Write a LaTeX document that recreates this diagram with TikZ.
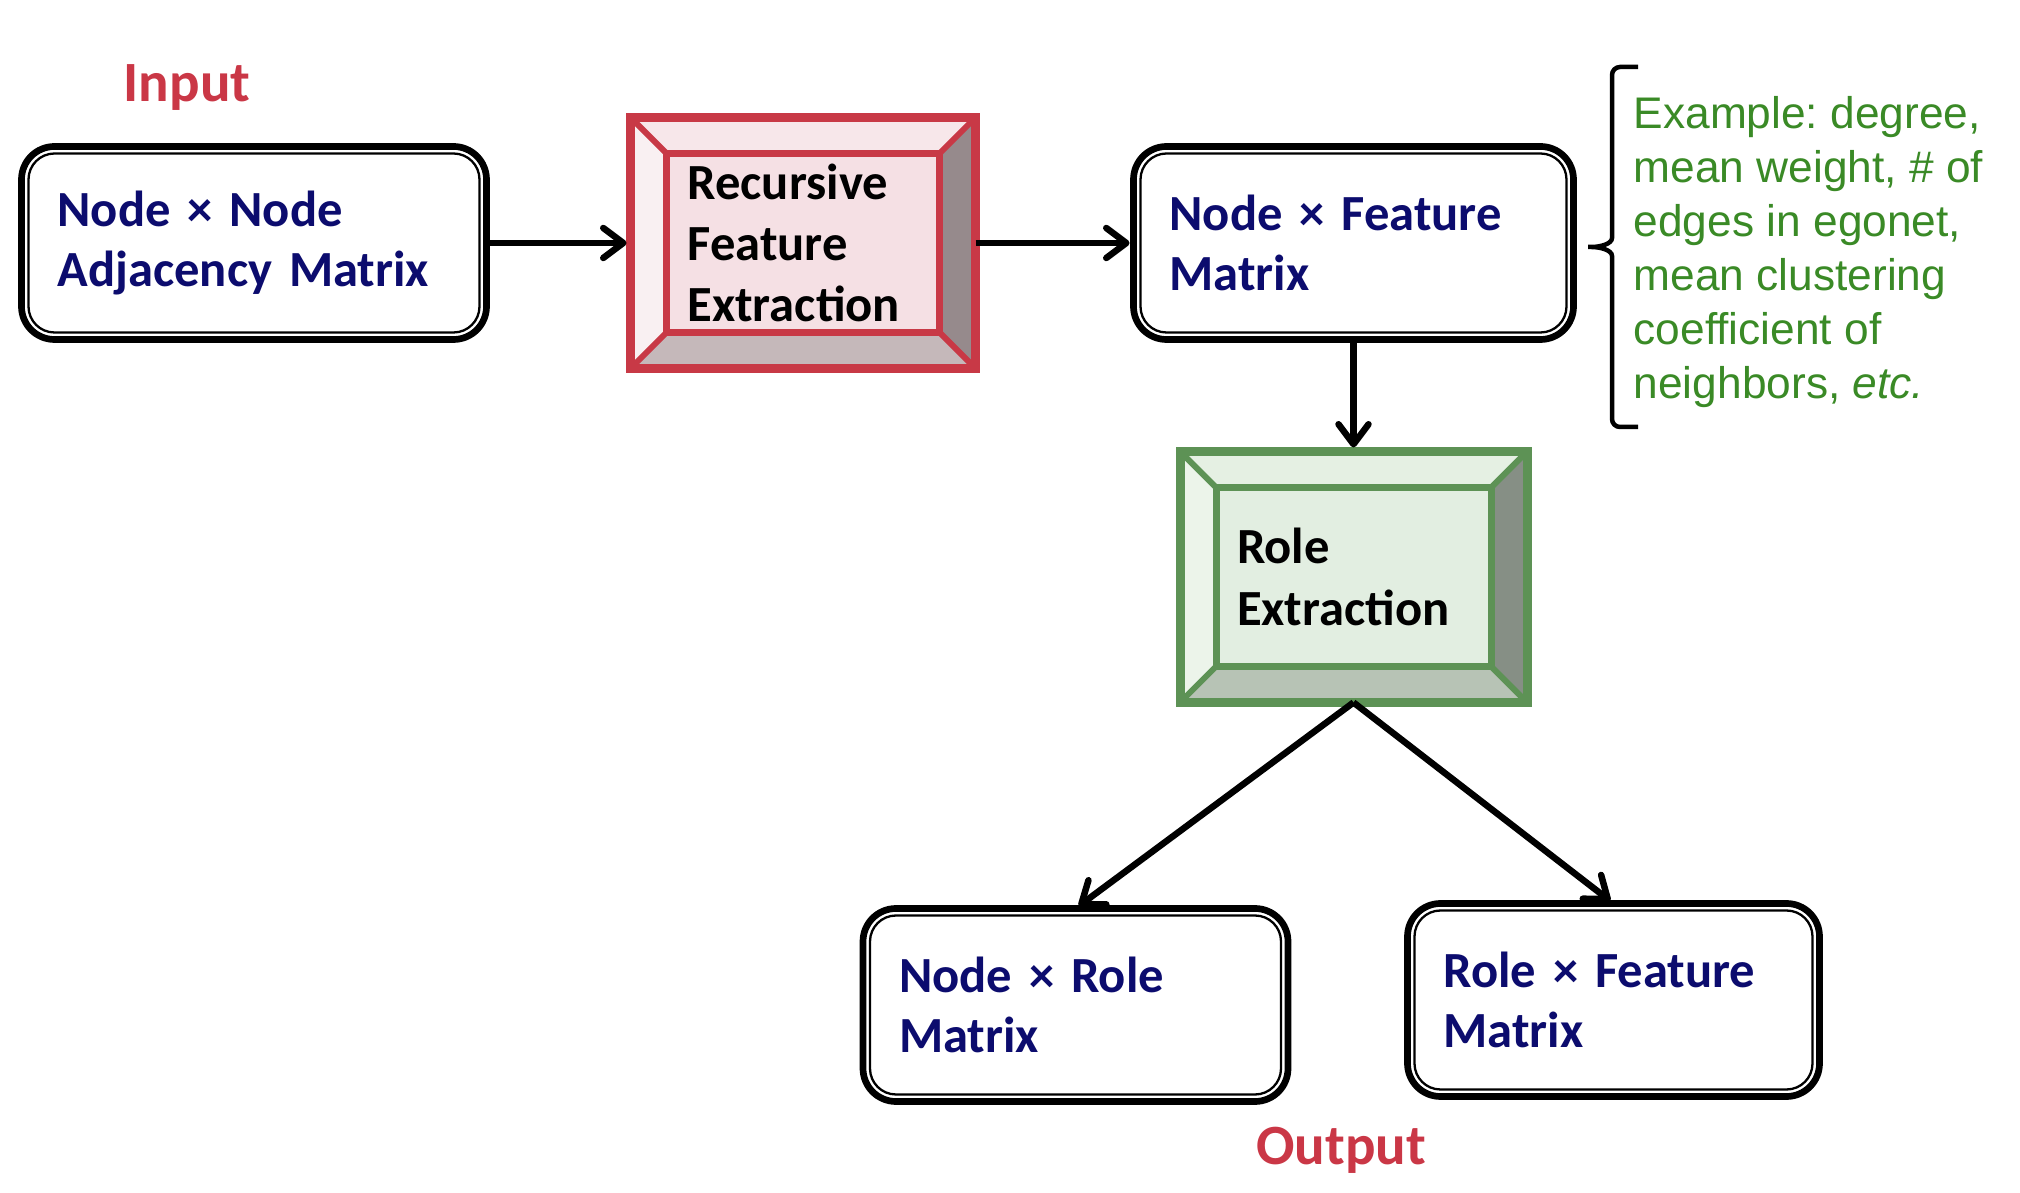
\documentclass[tikz,border=0pt]{standalone}
\usepackage{fontspec}
\setmainfont{Carlito}
\newfontfamily\arialfont{Liberation Sans}
\usetikzlibrary{arrows.meta, positioning, calc}
\frenchspacing

\definecolor{navytext}{RGB}{12,12,110}
\definecolor{redtext}{RGB}{202,55,70}
\definecolor{greentext}{RGB}{58,138,38}
\definecolor{redline}{RGB}{200,57,70}
\definecolor{redfill}{RGB}{245,224,228}
\definecolor{redtop}{RGB}{247,231,234}
\definecolor{redleft}{RGB}{249,240,242}
\definecolor{redright}{RGB}{150,138,140}
\definecolor{redbottom}{RGB}{197,184,186}
\definecolor{greenline}{RGB}{93,146,85}
\definecolor{greenfill}{RGB}{226,238,225}
\definecolor{greentop}{RGB}{229,240,227}
\definecolor{greenleft}{RGB}{236,244,234}
\definecolor{greenright}{RGB}{134,143,133}
\definecolor{greenbottom}{RGB}{183,195,181}

\tikzstyle{matbox} = [rectangle, rounded corners=0.33cm, minimum height=1.93cm, draw=black,
                      line width=0.067cm, fill=white, inner xsep=0.36cm, outer sep=0pt,
                      align=left, text=navytext, font=\fontsize{14.4}{17.2}\selectfont\bfseries]
\tikzstyle{bevelbox} = [rectangle, minimum height=2.51cm, inner xsep=0.57cm, outer sep=0pt,
                        align=left, text=black, font=\fontsize{14.4}{17.4}\selectfont\bfseries]
\tikzstyle{iolabel} = [inner sep=0pt, text=redtext, font=\fontsize{16.2}{19}\selectfont\bfseries]
\tikzstyle{arrow} = [line width=0.065cm, shorten >=0.04cm, -{Straight Barb[length=0.2cm, width=0.3cm, round]}]
\tikzstyle{brace} = [line width=0.045cm, rounded corners=0.08cm]

\begin{document}
\begin{tikzpicture}
    \useasboundingbox (0,0) rectangle (20.2,-11.93);

    % Top row
    \node[matbox, text width=3.93cm] (adj) at (2.54,-2.43) {Node × Node\\Adjacency Matrix};
    \node[bevelbox, fill=redfill, text width=2.31cm, right=1.44cm of adj] (rfe) {Recursive\\Feature\\Extraction};
    \node[matbox, text width=3.68cm, right=1.58cm of rfe] (nfm) {Node × Feature\\Matrix};

    % Role extraction and outputs
    \node[bevelbox, fill=greenfill, text width=2.33cm, below=1.12cm of nfm] (role) {Role\\Extraction};
    \node[matbox, text width=3.53cm, below=2.06cm of role, xshift=-2.78cm] (nrm) {Node × Role\\Matrix};
    \node[matbox, text width=3.40cm, below=2.01cm of role, xshift=2.60cm] (rfm) {Role × Feature\\Matrix};

    % Inner outlines of the matrix boxes
    \foreach \n in {adj,nfm,nrm,rfm}
        \draw[line width=0.023cm, rounded corners=0.26cm] ($(\n.north west)+(0.07,-0.07)$) rectangle ($(\n.south east)+(-0.07,0.07)$);

    % Bevelled faces
    \foreach \n/\lin/\tc/\lc/\rc/\dc in {rfe/redline/redtop/redleft/redright/redbottom,
                                         role/greenline/greentop/greenleft/greenright/greenbottom} {
        \coordinate (\n-nw) at ($(\n.north west)+(0.36,-0.36)$);
        \coordinate (\n-ne) at ($(\n.north east)+(-0.36,-0.36)$);
        \coordinate (\n-se) at ($(\n.south east)+(-0.36,0.36)$);
        \coordinate (\n-sw) at ($(\n.south west)+(0.36,0.36)$);
        \fill[\tc] (\n.north west) -- (\n.north east) -- (\n-ne) -- (\n-nw) -- cycle;
        \fill[\lc] (\n.north west) -- (\n-nw) -- (\n-sw) -- (\n.south west) -- cycle;
        \fill[\rc] (\n.north east) -- (\n.south east) -- (\n-se) -- (\n-ne) -- cycle;
        \fill[\dc] (\n.south west) -- (\n-sw) -- (\n-se) -- (\n.south east) -- cycle;
        \draw[\lin, line width=0.06cm] (\n.north west) -- (\n-nw) (\n.north east) -- (\n-ne)
                                       (\n.south east) -- (\n-se) (\n.south west) -- (\n-sw);
        \draw[\lin, line width=0.07cm] (\n-nw) rectangle (\n-se);
        \draw[\lin, line width=0.09cm] (\n.north west) rectangle (\n.south east);
    }

    % Arrows
    \draw[arrow] (adj) -- (rfe);
    \draw[arrow] (rfe) -- (nfm);
    \draw[arrow] (nfm) -- (role);
    \draw[arrow] (role.south) -- (nrm.north);
    \draw[arrow] (role.south) -- (rfm.north);

    % Labels
    \node[iolabel, anchor=base] (input) at (1.87,-1.02) {Input};
    \node[iolabel, anchor=base] (output) at (13.41,-11.64) {Output};

    % Feature examples
    \node[anchor=north west, inner sep=0pt, align=left, text=greentext,
          font=\arialfont\fontsize{12.6}{15.36}\selectfont] (examples) at (16.33,-0.96)
          {Example: degree,\\mean weight, \# of\\edges in egonet,\\mean clustering\\coefficient of\\neighbors, \textit{etc.}};
    \coordinate (bracetip) at ($(nfm.east)+(0.1,-0.04)$);
    \draw[brace] (16.38,-0.67) -- (16.12,-0.67) -- (16.12,-2.3)
        .. controls (16.12,-2.44) and (16.0,-2.47) .. (bracetip)
        .. controls (16.0,-2.47) and (16.12,-2.5) .. (16.12,-2.64)
        -- (16.12,-4.27) -- (16.38,-4.27);
\end{tikzpicture}
\end{document}
